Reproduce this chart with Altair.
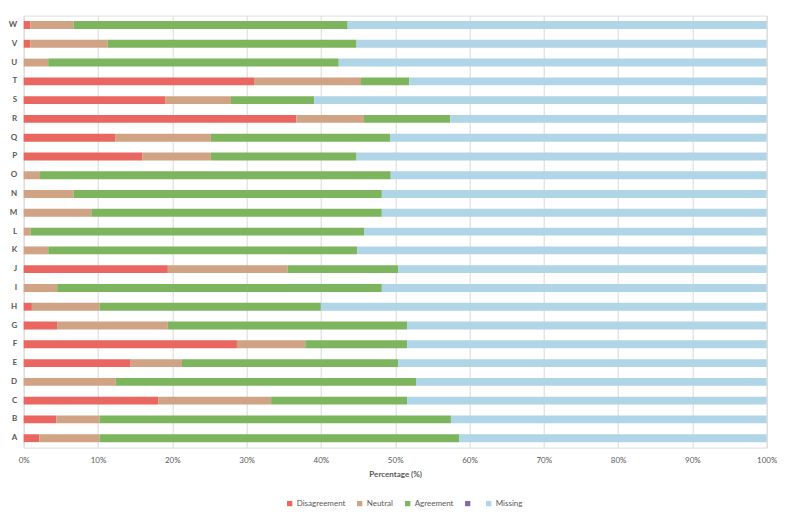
import altair as alt
import pandas as pd

categories = list("ABCDEFGHIJKLMNOPQRSTUVW")
disagreement = [2.1, 4.4, 18.1, 0, 14.4, 28.7, 4.5, 1.1, 0, 19.4, 0, 0, 0, 0, 0,
                16.0, 12.3, 36.7, 19.1, 31.0, 0, 0.9, 0.9]
neutral = [8.1, 5.8, 15.2, 12.4, 6.9, 9.2, 14.9, 9.1, 4.5, 16.1, 3.3, 0.9, 9.1,
           6.7, 2.2, 9.2, 12.9, 9.1, 8.8, 14.4, 3.3, 10.4, 5.8]
agreement = [48.4, 47.3, 18.3, 40.4, 29.1, 13.7, 32.2, 29.8, 43.7, 14.9, 41.6,
             44.9, 39.1, 41.5, 47.2, 19.6, 24.1, 11.6, 11.2, 6.5, 39.1, 33.5, 36.9]
missing = [41.4, 42.5, 48.4, 47.2, 49.6, 48.4, 48.4, 60.0, 51.8, 49.6, 55.1,
           54.2, 51.8, 51.8, 50.6, 55.2, 50.7, 42.6, 60.9, 48.1, 57.6, 55.2, 56.4]

series_names = ["Disagreement", "Neutral", "Agreement", "Series4", "Missing"]
series_colors = ["#e96661", "#d0a384", "#7db45e", "#7f6aa8", "#afd5e7"]

rows = []
for name, vals in [("Disagreement", disagreement), ("Neutral", neutral),
                   ("Agreement", agreement), ("Missing", missing)]:
    for c, v in zip(categories, vals):
        if v > 0:
            rows.append({"cat": c, "series": name, "value": v,
                         "order": series_names.index(name)})
df = pd.DataFrame(rows)

font = "Lato"
grey = "#595959"

chart = alt.Chart(df).mark_bar().encode(
    y=alt.Y("cat:N", sort=categories[::-1],
            scale=alt.Scale(paddingInner=0.58, paddingOuter=0.29),
            axis=alt.Axis(title=None, ticks=False, domain=False,
                          labelFontSize=8, labelFontWeight="bold",
                          labelColor=grey, labelPadding=7, labelFont=font)),
    x=alt.X("value:Q", stack="zero",
            scale=alt.Scale(domain=[0, 100], nice=False),
            axis=alt.Axis(title="Percentage (%)", values=list(range(0, 101, 10)),
                          labelExpr="datum.value + '%'", ticks=False, domain=False,
                          labelFlush=False,
                          grid=True, gridColor="#d9d9d9", gridWidth=1,
                          labelFontSize=8, labelColor=grey, labelFont=font,
                          labelPadding=9, titleFont=font, titleFontSize=8,
                          titleFontWeight="bold", titleColor=grey, titlePadding=6)),
    color=alt.Color("series:N",
                    scale=alt.Scale(domain=series_names, range=series_colors),
                    legend=alt.Legend(title=None, orient="none", legendX=262,
                                      legendY=484, direction="horizontal",
                                      symbolType="square", symbolSize=28,
                                      symbolStrokeWidth=0,
                                      labelFontSize=8, labelColor=grey,
                                      labelFont=font, columnPadding=10,
                                      labelOffset=3,
                                      labelExpr="datum.label == 'Series4' ? '' : datum.label")),
    order=alt.Order("order:Q", sort="ascending"),
).properties(
    width=743, height=432,
    autosize=alt.AutoSizeParams(type="none"),
    padding={"left": 15.7, "top": 7.6, "right": 10, "bottom": 66},
).configure_view(stroke=None).configure(background="white")

chart.save("out.html", embed_options={"renderer": "svg", "actions": False})
